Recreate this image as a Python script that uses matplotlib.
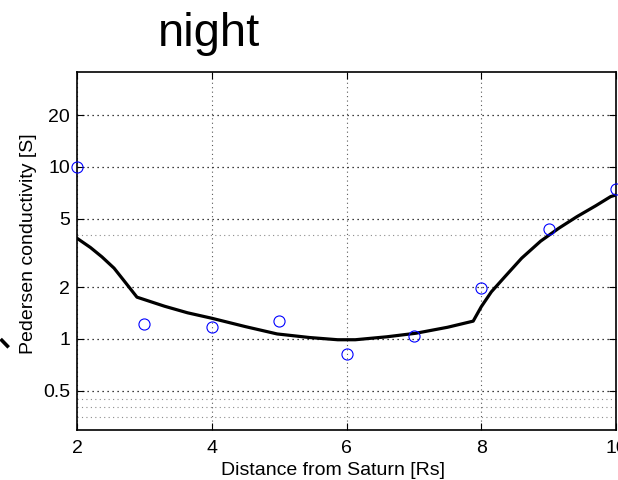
import matplotlib.pyplot as plt
from matplotlib.lines import Line2D
from matplotlib.ticker import FixedLocator, NullFormatter

plt.rcParams['font.family'] = ['Liberation Sans', 'DejaVu Sans']

# --- measured Pedersen conductivity (night side) ---
dist = [2, 3, 4, 5, 6, 7, 8, 9, 10]
sigma_p = [10.0, 1.22, 1.18, 1.27, 0.815, 1.04, 1.98, 4.34, 7.44]

# --- model curve ---
fit_dist = [2.0, 2.2, 2.37, 2.55, 2.69, 2.89, 3.3, 3.64, 4.0, 4.5, 4.97, 5.45,
            5.87, 6.13, 6.6, 7.03, 7.5, 7.88, 8.0, 8.15, 8.35, 8.6, 8.88, 9.15,
            9.42, 9.7, 9.92, 10.0]
fit_sigma = [3.85, 3.4, 3.0, 2.58, 2.2, 1.75, 1.55, 1.42, 1.32, 1.18, 1.07, 1.02,
             0.99, 0.99, 1.03, 1.08, 1.17, 1.27, 1.54, 1.88, 2.30, 2.95, 3.70, 4.40,
             5.14, 5.95, 6.72, 6.87]

y_major = [0.5, 1, 2, 5, 10, 20]
y_minor = [0.35, 0.4, 0.45, 4]

fig = plt.figure(figsize=(6.18, 4.8), dpi=100)
ax = fig.add_axes([0.1246, 0.1042, 0.8722, 0.7458])

ax.plot(fit_dist, fit_sigma, color='black', lw=2.3, zorder=3)
ax.plot(dist, sigma_p, 'o', mfc='none', mec='blue', ms=8, mew=0.8,
        clip_on=False, zorder=4)

ax.set_yscale('log')
ax.set_xlim(2, 10)
ax.set_ylim(0.296, 35.6)
ax.set_xticks([2, 4, 6, 8, 10])
ax.yaxis.set_major_locator(FixedLocator(y_major))
ax.yaxis.set_minor_locator(FixedLocator(y_minor))
ax.set_yticklabels([str(v) for v in y_major])
ax.yaxis.set_minor_formatter(NullFormatter())

# MATLAB-like grid and ticks
ax.grid(True, axis='y', which='major', linestyle=(0, (1, 3)), color='black', lw=0.9)
ax.grid(True, axis='y', which='minor', linestyle=(0, (1, 3)), color='0.55', lw=0.8)
ax.grid(True, axis='x', which='major', linestyle=(0, (1, 3)), color='0.35', lw=0.8)
ax.tick_params(which='both', direction='in', top=True, right=True,
               labelsize=14, length=5, width=0.8, pad=5)
ax.tick_params(axis='x', pad=7)
ax.tick_params(which='minor', length=0)
for sp in ax.spines.values():
    sp.set_linewidth(1.2)

ax.set_xlabel('Distance from Saturn [Rs]', fontsize=14)
ax.xaxis.set_label_coords(0.475, -0.09)
ax.set_ylabel('Pedersen conductivity [S]', fontsize=14)
ax.yaxis.set_label_coords(-0.074, 0.52)

fig.text(0.338, 0.929, 'night', fontsize=34, ha='center', va='center')

# stray arrow stroke at the left edge
fig.add_artist(Line2D([0.003, 0.012], [0.291, 0.279], transform=fig.transFigure,
                      color='black', lw=2.6))

fig.savefig('out.png', dpi=100)
